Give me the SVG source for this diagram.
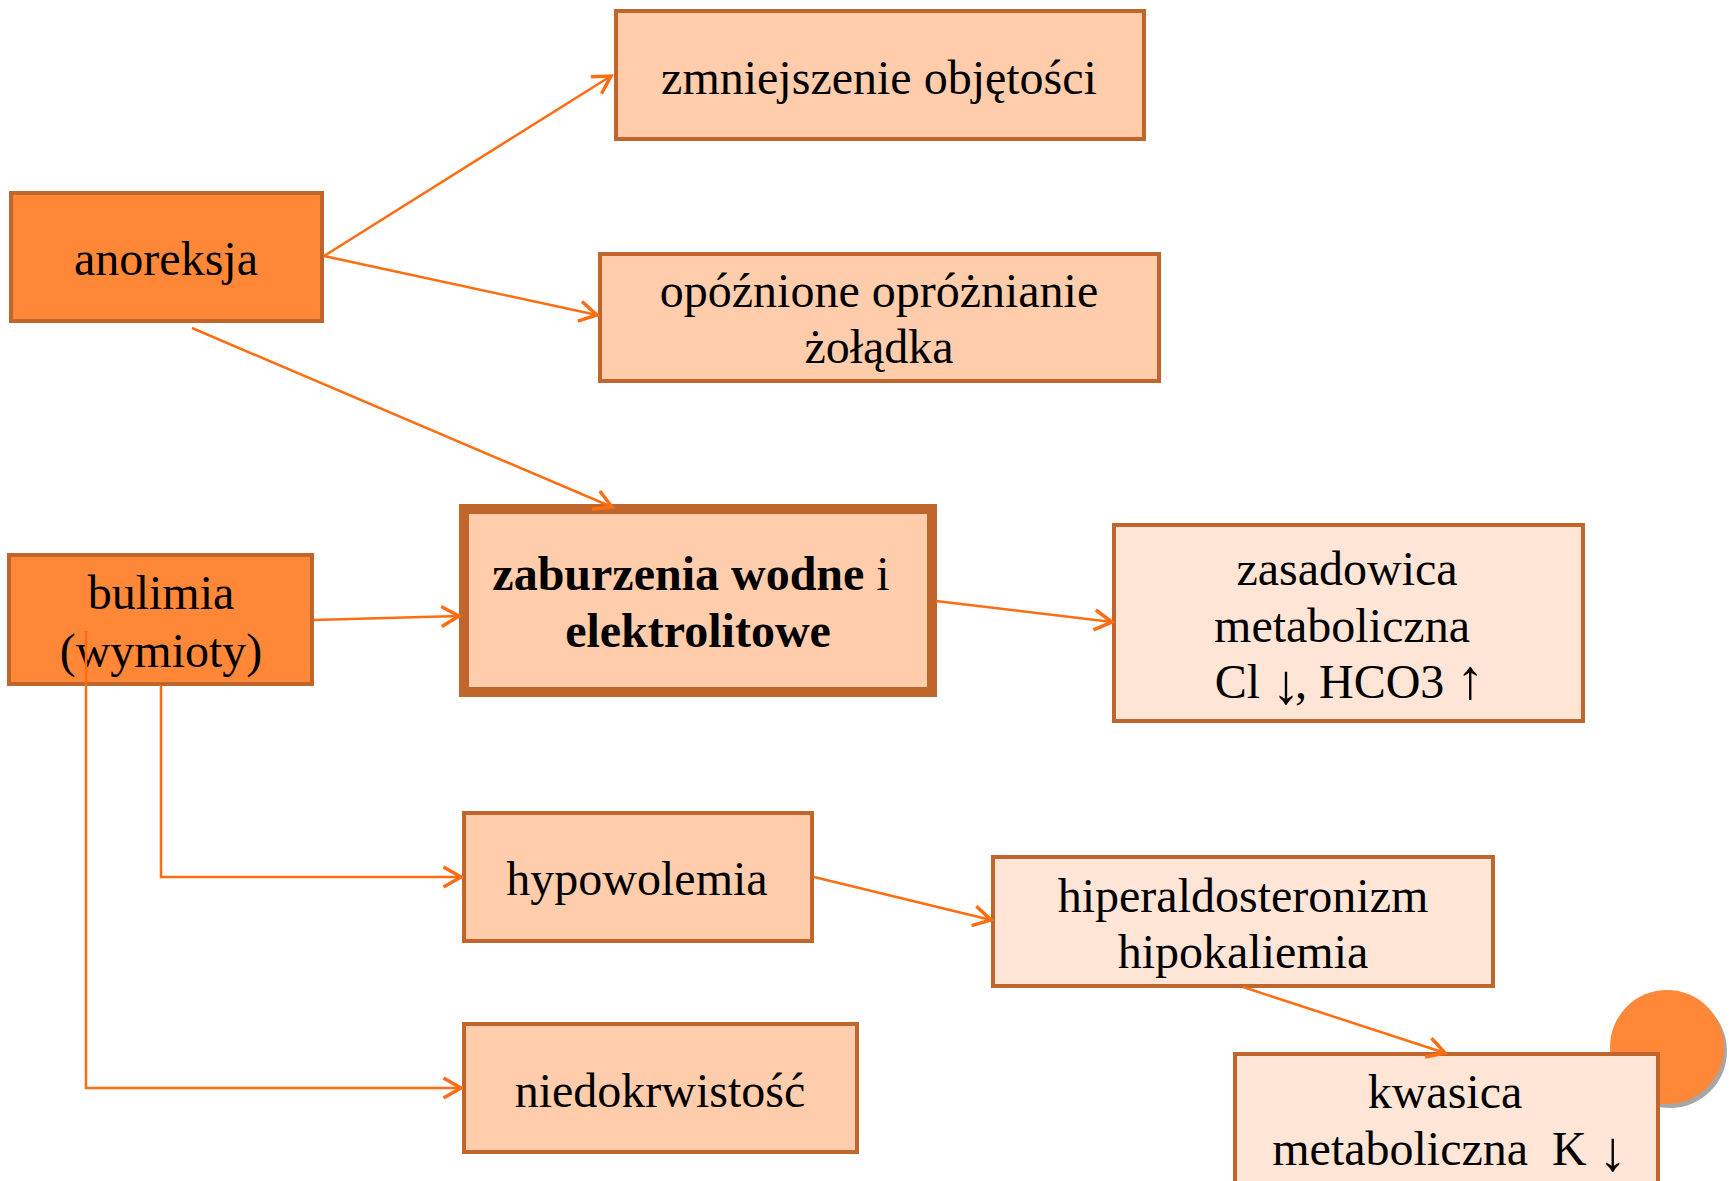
<svg xmlns="http://www.w3.org/2000/svg" width="1729" height="1181" viewBox="0 0 1729 1181">
<style>
  .box { stroke: #C0652C; stroke-width: 4; }
  .dark { fill: #FF8838; }
  .peach { fill: #FFCDAB; }
  .light { fill: #FEE5D6; }
  .t { font-family: "Liberation Serif", "Times New Roman", serif; font-size: 48px; fill: #000; text-anchor: middle; white-space: pre; }
  .b { font-weight: bold; }
  .ar { font-size: 56px; letter-spacing: -5px; }
  .c { fill: none; stroke: #FF6D12; stroke-width: 2.5; }
</style>
<defs>
  <marker id="ah" markerUnits="userSpaceOnUse" markerWidth="40" markerHeight="40" viewBox="-25 -20 30 40" refX="0" refY="0" orient="auto">
    <path d="M-17.5,-10 L0,0 L-17.5,10" fill="none" stroke="#FF6D12" stroke-width="3.5" stroke-linejoin="miter"/>
  </marker>
</defs>
<rect width="1729" height="1181" fill="#FFFFFF"/>

<g id="circle-deco">
  <circle cx="1670" cy="1051" r="57" fill="#A6A6A6"/>
  <circle cx="1667" cy="1047" r="57" fill="#FF8838"/>
</g>

<g id="anoreksja">
  <rect class="box dark" x="11" y="193" width="311" height="128"/>
  <text class="t" x="166" y="275">anoreksja</text>
</g>
<g id="zmniejszenie">
  <rect class="box peach" x="616" y="11" width="528" height="128"/>
  <text class="t" x="879" y="94">zmniejszenie objętości</text>
</g>
<g id="opoznione">
  <rect class="box peach" x="600" y="254" width="559" height="127"/>
  <text class="t" x="879" y="307">opóźnione opróżnianie</text>
  <text class="t" x="879" y="363">żołądka</text>
</g>
<g id="zaburzenia">
  <rect class="box peach" x="464" y="509" width="468" height="183" style="stroke-width:10"/>
  <text class="t" x="691" y="590"><tspan class="b">zaburzenia wodne</tspan> i</text>
  <text class="t b" x="698" y="647">elektrolitowe</text>
</g>
<g id="zasadowica">
  <rect class="box light" x="1114" y="525" width="469" height="196"/>
  <text class="t" x="1347" y="585">zasadowica</text>
  <text class="t" x="1342" y="642">metaboliczna</text>
  <text class="t" x="1347" y="698">Cl <tspan class="ar" dy="5">↓</tspan><tspan dy="-5">, HCO3 </tspan><tspan class="ar">↑</tspan></text>
</g>
<g id="bulimia">
  <rect class="box dark" x="9" y="555" width="303" height="129"/>
  <text class="t" x="161" y="609">bulimia</text>
  <text class="t" x="161" y="667">(wymioty)</text>
</g>
<g id="hypowolemia">
  <rect class="box peach" x="464" y="813" width="348" height="128"/>
  <text class="t" x="637" y="895">hypowolemia</text>
</g>
<g id="niedokrwistosc">
  <rect class="box peach" x="464" y="1024" width="393" height="128"/>
  <text class="t" x="660" y="1107">niedokrwistość</text>
</g>
<g id="hiperaldosteronizm">
  <rect class="box light" x="993" y="857" width="500" height="129"/>
  <text class="t" x="1243" y="912">hiperaldosteronizm</text>
  <text class="t" x="1243" y="968">hipokaliemia</text>
</g>
<g id="kwasica">
  <rect class="box light" x="1235" y="1054" width="423" height="140"/>
  <text class="t" x="1445" y="1108">kwasica</text>
  <text class="t" x="1447" y="1165">metaboliczna  K <tspan class="ar" dy="5">↓</tspan></text>
</g>

<g id="connectors">
  <line class="c" x1="324" y1="256" x2="611" y2="76" marker-end="url(#ah)"/>
  <line class="c" x1="324" y1="256" x2="597" y2="315" marker-end="url(#ah)"/>
  <line class="c" x1="192" y1="328" x2="612" y2="507" marker-end="url(#ah)"/>
  <line class="c" x1="314" y1="620" x2="459" y2="616" marker-end="url(#ah)"/>
  <line class="c" x1="936" y1="601" x2="1112" y2="622" marker-end="url(#ah)"/>
  <polyline class="c" points="161,685 161,877 461,877" marker-end="url(#ah)"/>
  <polyline class="c" points="86,631 86,1088 461,1088" marker-end="url(#ah)"/>
  <line class="c" x1="814" y1="877" x2="991" y2="920" marker-end="url(#ah)"/>
  <line class="c" x1="1243" y1="987" x2="1445" y2="1053" marker-end="url(#ah)"/>
</g>
</svg>
